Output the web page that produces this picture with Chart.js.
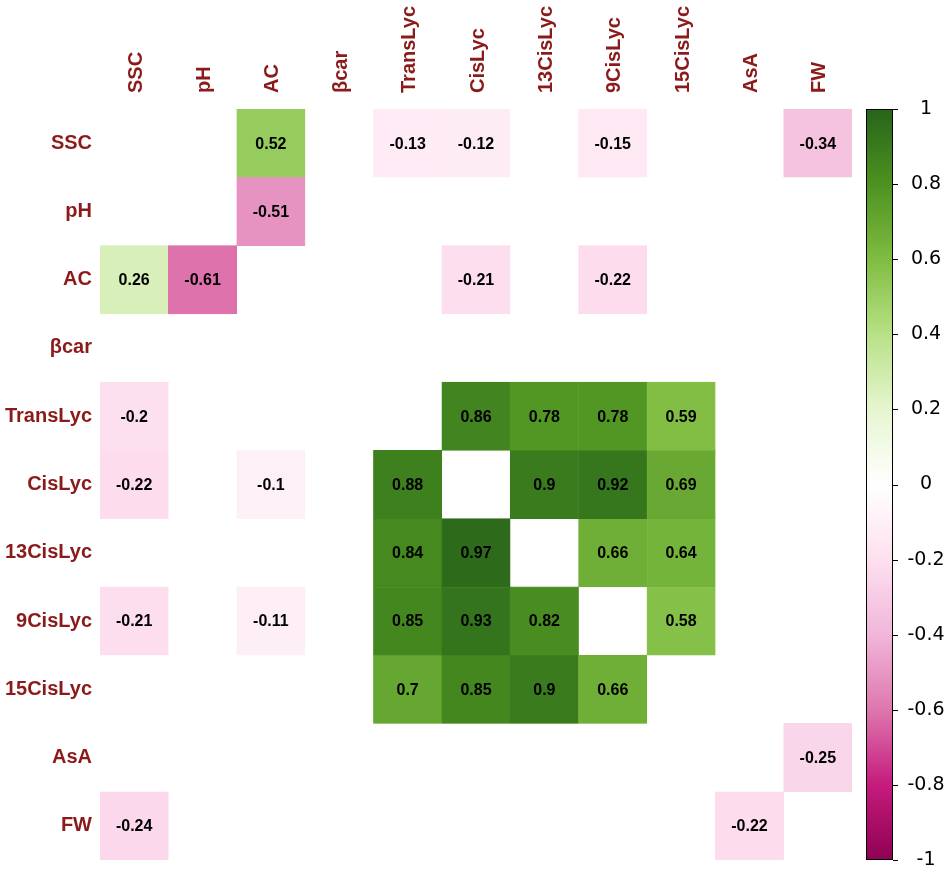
<!DOCTYPE html>
<html>
<head>
<meta charset="utf-8">
<script src="https://cdn.jsdelivr.net/npm/chart.js@4.4.1/dist/chart.umd.min.js"></script>
<style>
  html, body { margin: 0; padding: 0; background: #fff; }
  #wrap { width: 944px; height: 869px; position: relative; }
</style>
</head>
<body>
<div id="wrap"><canvas id="corrChart"></canvas></div>
<script>
/* =========================
   DATA
========================= */
const varNames = ["SSC", "pH", "AC", "βcar", "TransLyc", "CisLyc", "13CisLyc", "9CisLyc", "15CisLyc", "AsA", "FW"];

// one row per variable, columns in the same order as varNames (null = blank cell)
const rowSSC      = [null, null, 0.52, null, -0.13, -0.12, null, -0.15, null, null, -0.34];
const rowPH       = [null, null, -0.51, null, null, null, null, null, null, null, null];
const rowAC       = [0.26, -0.61, null, null, null, -0.21, null, -0.22, null, null, null];
const rowBcar     = [null, null, null, null, null, null, null, null, null, null, null];
const rowTransLyc = [-0.2, null, null, null, null, 0.86, 0.78, 0.78, 0.59, null, null];
const rowCisLyc   = [-0.22, null, -0.1, null, 0.88, null, 0.9, 0.92, 0.69, null, null];
const row13CisLyc = [null, null, null, null, 0.84, 0.97, null, 0.66, 0.64, null, null];
const row9CisLyc  = [-0.21, null, -0.11, null, 0.85, 0.93, 0.82, null, 0.58, null, null];
const row15CisLyc = [null, null, null, null, 0.7, 0.85, 0.9, 0.66, null, null, null];
const rowAsA      = [null, null, null, null, null, null, null, null, null, null, -0.25];
const rowFW       = [-0.24, null, null, null, null, null, null, null, null, -0.22, null];

const corrRows = [rowSSC, rowPH, rowAC, rowBcar, rowTransLyc, rowCisLyc,
                  row13CisLyc, row9CisLyc, row15CisLyc, rowAsA, rowFW];

const colorbarTicks = [1, 0.8, 0.6, 0.4, 0.2, 0, -0.2, -0.4, -0.6, -0.8, -1];

/* =========================
   WARNA (PiYG)
========================= */
const paletteStops = ["#8E0152", "#C51B7D", "#DE77AE", "#F1B6DA", "#FDE0EF", "#FFFFFF",
                      "#E6F5D0", "#B8E186", "#7FBC41", "#4D9221", "#276419"];

function hexToRgb(hex) {
  const n = parseInt(hex.slice(1), 16);
  return [(n >> 16) & 255, (n >> 8) & 255, n & 255];
}

function valueColor(v) {
  const pos = (v + 1) / 2 * (paletteStops.length - 1);
  const i = Math.min(Math.floor(pos), paletteStops.length - 2);
  const t = pos - i;
  const a = hexToRgb(paletteStops[i]);
  const b = hexToRgb(paletteStops[i + 1]);
  const c = a.map((x, k) => Math.round(x + (b[k] - x) * t));
  return `rgb(${c[0]},${c[1]},${c[2]})`;
}

/* =========================
   DATASETS
========================= */
const datasets = corrRows.map((row, i) => ({
  label: varNames[i],
  data: row.map(v => (v === null ? null : [i, i + 1])),
  values: row,
  backgroundColor: row.map(v => (v === null ? "rgba(0,0,0,0)" : valueColor(v))),
  borderColor: row.map(v => (v === null ? "rgba(0,0,0,0)" : valueColor(v))),
  borderWidth: 0.6,
  borderSkipped: false,
  grouped: false,
  barPercentage: 1,
  categoryPercentage: 1
}));

/* =========================
   PLUGIN: ANGKA DI SEL
========================= */
const cellLabels = {
  id: "cellLabels",
  afterDatasetsDraw(chart) {
    const ctx = chart.ctx;
    ctx.save();
    ctx.font = "bold 16px 'Liberation Sans', Arial, sans-serif";
    ctx.fillStyle = "#000";
    ctx.textAlign = "center";
    ctx.textBaseline = "middle";
    chart.data.datasets.forEach((ds, di) => {
      const meta = chart.getDatasetMeta(di);
      meta.data.forEach((bar, j) => {
        const v = ds.values[j];
        if (v === null) return;
        ctx.fillText(String(v), bar.x, (bar.y + bar.base) / 2 + 1);
      });
    });
    ctx.restore();
  }
};

/* =========================
   PLUGIN: COLORBAR
========================= */
const colorbar = {
  id: "colorbar",
  afterDraw(chart) {
    const ctx = chart.ctx;
    const area = chart.chartArea;
    const x0 = 866, x1 = 893;
    const top = area.top, bottom = area.bottom;

    const grad = ctx.createLinearGradient(0, bottom, 0, top);
    paletteStops.forEach((c, i) => grad.addColorStop(i / (paletteStops.length - 1), c));

    ctx.save();
    ctx.fillStyle = grad;
    ctx.fillRect(x0, top, x1 - x0, bottom - top);
    ctx.strokeStyle = "#000";
    ctx.lineWidth = 1;
    ctx.strokeRect(x0 + 0.5, top + 0.5, x1 - x0 - 1, bottom - top - 1);

    ctx.font = "19px 'DejaVu Sans', sans-serif";
    ctx.fillStyle = "#000";
    ctx.textAlign = "center";
    ctx.textBaseline = "middle";
    colorbarTicks.forEach(t => {
      const y = top + (1 - t) / 2 * (bottom - top);
      ctx.beginPath();
      ctx.moveTo(x1, Math.round(y) + 0.5);
      ctx.lineTo(x1 + 5, Math.round(y) + 0.5);
      ctx.stroke();
      ctx.fillText(String(t), 926, y);
    });
    ctx.restore();
  }
};

/* =========================
   CHART
========================= */
const labelFont = { family: "'Liberation Sans', Arial, sans-serif", size: 20, weight: "bold" };

function noScalePadding(scale) {
  scale.paddingTop = 0;
  scale.paddingBottom = 0;
  scale.paddingLeft = 0;
  scale.paddingRight = 0;
}

new Chart(document.getElementById("corrChart"), {
  type: "bar",
  data: { labels: varNames, datasets: datasets },
  options: {
    responsive: true,
    maintainAspectRatio: false,
    animation: false,
    layout: { padding: { left: 0, top: 0, right: 92, bottom: 9 } },
    plugins: {
      legend: { display: false },
      tooltip: { enabled: false }
    },
    scales: {
      x: {
        position: "top",
        offset: true,
        grid: { display: false, drawTicks: false },
        border: { display: false },
        ticks: {
          color: "#8B1A1A",
          font: labelFont,
          minRotation: 90,
          maxRotation: 90,
          autoSkip: false,
          padding: 16,
          labelOffset: 26
        },
        afterFit(scale) {
          scale.height = 109;
          noScalePadding(scale);
        }
      },
      y: {
        min: 0,
        max: 11,
        reverse: true,
        grid: { display: false, drawTicks: false },
        border: { display: false },
        afterBuildTicks(scale) {
          scale.ticks = varNames.map((_, i) => ({ value: i + 0.5 }));
        },
        ticks: {
          color: "#8B1A1A",
          font: labelFont,
          autoSkip: false,
          padding: 8,
          callback: value => varNames[Math.floor(value)]
        },
        afterFit(scale) {
          scale.width = 100;
          noScalePadding(scale);
        }
      }
    }
  },
  plugins: [cellLabels, colorbar]
});
</script>
</body>
</html>
